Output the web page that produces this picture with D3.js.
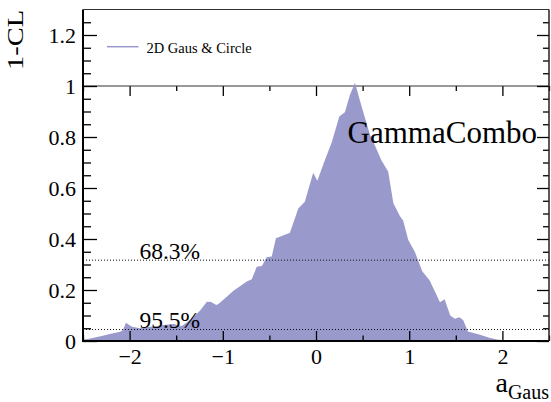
<!DOCTYPE html>
<html>
<head>
<meta charset="utf-8">
<script src="https://cdn.jsdelivr.net/npm/d3@7"></script>
</head>
<body style="margin:0;padding:0;background:#fff;">
<svg id="chart" width="551" height="402" style="display:block"></svg>
<script>
// ---- data ----
const xVals = [-2.5, -2.42, -2.3, -2.2, -2.1, -2.07, -2.04, -1.975, -1.886, -1.8, -1.707, -1.64, -1.53, -1.44, -1.35, -1.243, -1.171, -1.125, -1.07, -1.047, -0.957, -0.886, -0.815, -0.743, -0.689, -0.636, -0.58, -0.53, -0.475, -0.43, -0.28, -0.19, -0.12, -0.03, 0.014, 0.096, 0.17, 0.25, 0.31, 0.364, 0.418, 0.49, 0.58, 0.63, 0.70, 0.775, 0.83, 0.90, 0.936, 0.99, 1.06, 1.14, 1.22, 1.33, 1.38, 1.44, 1.49, 1.54, 1.58, 1.63, 1.76, 1.86, 1.94, 2.0, 2.2, 2.5];
const clVals = [0.005, 0.01, 0.02, 0.028, 0.036, 0.043, 0.072, 0.056, 0.05, 0.055, 0.059, 0.063, 0.067, 0.059, 0.082, 0.12, 0.154, 0.153, 0.141, 0.145, 0.174, 0.197, 0.215, 0.233, 0.242, 0.291, 0.294, 0.328, 0.331, 0.403, 0.425, 0.52, 0.546, 0.66, 0.628, 0.71, 0.78, 0.88, 0.897, 0.965, 1.013, 0.919, 0.808, 0.769, 0.71, 0.664, 0.54, 0.49, 0.472, 0.396, 0.35, 0.274, 0.237, 0.152, 0.164, 0.1, 0.087, 0.093, 0.081, 0.037, 0.025, 0.013, 0.006, 0.004, 0.002, 0.001];
const xTicks = [-2, -1, 0, 1, 2];
const xMinorTicks = [-2.5, -1.5, -0.5, 0.5, 1.5, 2.5];
const yTicks = [0, 0.2, 0.4, 0.6, 0.8, 1, 1.2];
const yMinorTicks = [0.05,0.1,0.15,0.25,0.3,0.35,0.45,0.5,0.55,0.65,0.7,0.75,0.85,0.9,0.95,1.05,1.1,1.15,1.25];
const clLines = [{value: 0.317, label: "68.3%"}, {value: 0.045, label: "95.5%"}];
const seriesName = "2D Gaus & Circle";
const fillColor = "#9999cc";
const FONT = "'Liberation Serif'";

// ---- layout ----
const L = 83, R = 549, T = 9.5, B = 341;
const x = d3.scaleLinear().domain([-2.5, 2.5]).range([L, R]);
const y = d3.scaleLinear().domain([0, 1.3]).range([B, T]);
const fmt = d3.format("");
const svg = d3.select("#chart");
svg.append("rect").attr("width", 551).attr("height", 402).attr("fill", "#fff");

const data = xVals.map((v, i) => ({x: v, y: clVals[i]}));

// secondary axis line at 1-CL = 1
const g1 = svg.append("g").attr("transform", `translate(0,${y(1)})`);
g1.call(d3.axisBottom(x).tickValues(xTicks).tickSize(10).tickFormat(""));
const g1m = svg.append("g").attr("transform", `translate(0,${y(1)})`);
g1m.call(d3.axisBottom(x).tickValues(xMinorTicks).tickSize(5).tickFormat(""));
svg.append("line").attr("x1", L).attr("x2", R).attr("y1", y(1)).attr("y2", y(1))
  .attr("stroke", "#333").attr("stroke-width", 1);

// area
const area = d3.area().x(d => x(d.x)).y0(y(0)).y1(d => y(d.y));
svg.append("path").datum(data).attr("d", area).attr("fill", fillColor).attr("stroke", "none");

// CL lines
clLines.forEach(c => {
  svg.append("line").attr("x1", L).attr("x2", R).attr("y1", y(c.value)).attr("y2", y(c.value))
    .attr("stroke", "#111").attr("stroke-width", 1).attr("stroke-dasharray", "1,2");
  svg.append("text").attr("x", x(-1.895)).attr("y", y(c.value) - 1.5)
    .attr("font-size", 23.5).text(c.label);
});

// GammaCombo label
svg.append("text").attr("x", 537).attr("y", 143).attr("text-anchor", "end")
  .attr("font-size", 31).text("GammaCombo");

// legend
svg.append("line").attr("x1", 107).attr("x2", 138.5).attr("y1", 46.7).attr("y2", 46.7)
  .attr("stroke", fillColor).attr("stroke-width", 1.5);
svg.append("text").attr("x", 146.5).attr("y", 52.5).attr("font-size", 14.5).text(seriesName);

// axes
const gx = svg.append("g").attr("transform", `translate(0,${B})`);
gx.call(d3.axisBottom(x).tickValues(xTicks).tickFormat(fmt).tickSizeInner(-10).tickSizeOuter(0).tickPadding(7));
const gxm = svg.append("g").attr("transform", `translate(0,${B})`);
gxm.call(d3.axisBottom(x).tickValues(xMinorTicks).tickSizeInner(-5.5).tickSizeOuter(0).tickFormat(""));

const gy = svg.append("g").attr("transform", `translate(${L},0)`);
gy.call(d3.axisLeft(y).tickValues(yTicks).tickFormat(fmt).tickSizeInner(-14).tickSizeOuter(0).tickPadding(7));
const gym = svg.append("g").attr("transform", `translate(${L},0)`);
gym.call(d3.axisLeft(y).tickValues(yMinorTicks).tickSizeInner(-8).tickSizeOuter(0).tickFormat(""));

const gyr = svg.append("g").attr("transform", `translate(${R},0)`);
gyr.call(d3.axisRight(y).tickValues(yTicks).tickSizeInner(-12).tickSizeOuter(0).tickFormat(""));
const gyrm = svg.append("g").attr("transform", `translate(${R},0)`);
gyrm.call(d3.axisRight(y).tickValues(yMinorTicks).tickSizeInner(-6).tickSizeOuter(0).tickFormat(""));

svg.selectAll(".domain").remove();
svg.selectAll(".tick line").attr("stroke", "#000").attr("stroke-width", 1.3);
svg.selectAll(".tick text").attr("font-size", 22).attr("fill", "#000");

// frame
svg.append("line").attr("x1", L).attr("x2", L).attr("y1", T).attr("y2", B + 1).attr("stroke", "#000").attr("stroke-width", 2);
svg.append("line").attr("x1", L - 1).attr("x2", R).attr("y1", B).attr("y2", B).attr("stroke", "#000").attr("stroke-width", 2);
svg.append("line").attr("x1", L).attr("x2", R).attr("y1", T).attr("y2", T).attr("stroke", "#333").attr("stroke-width", 1);
svg.append("line").attr("x1", R).attr("x2", R).attr("y1", T).attr("y2", B).attr("stroke", "#222").attr("stroke-width", 1.5);

// axis titles
svg.append("text").attr("transform", "translate(23.3,10) rotate(-90)").attr("text-anchor", "end")
  .attr("font-size", 24).attr("textLength", 60).attr("lengthAdjust", "spacingAndGlyphs").text("1-CL");
const xt = svg.append("text").attr("x", 549).attr("y", 392).attr("text-anchor", "end").attr("font-size", 28);
xt.append("tspan").text("a");
xt.append("tspan").attr("font-size", 20).attr("dy", 7).text("Gaus");

svg.selectAll("text").style("font-family", FONT).style("fill", "#000");
</script>
</body>
</html>
